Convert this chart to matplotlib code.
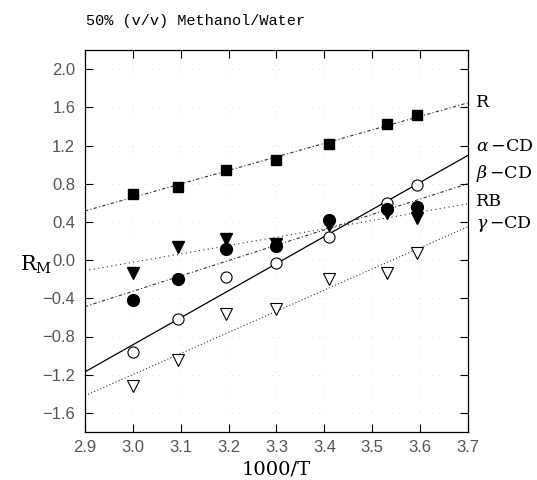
import matplotlib
matplotlib.use("Agg")
import matplotlib.pyplot as plt
import numpy as np

# ---- data ----
x_vals = [3.00, 3.095, 3.194, 3.298, 3.41, 3.53, 3.594]
R_vals = [0.69, 0.766, 0.947, 1.05, 1.22, 1.42, 1.52]
aCD_vals = [-0.964, -0.62, -0.18, -0.035, 0.244, 0.60, 0.79]
bCD_vals = [-0.418, -0.198, 0.115, 0.15, 0.425, 0.53, 0.557]
RB_vals = [-0.14, 0.14, 0.216, 0.17, 0.37, 0.49, 0.44]
gCD_vals = [-1.32, -1.05, -0.564, -0.515, -0.198, -0.13, 0.07]

fit_x = [2.9, 3.7]
fit_R = [0.515, 1.647]
fit_aCD = [-1.17, 1.097]
fit_bCD = [-0.487, 0.80]
fit_RB = [-0.11, 0.59]
fit_gCD = [-1.42, 0.35]

series_labels = ["R", r"$\alpha\,$$-$CD", r"$\beta\,$$-$CD", "RB", r"$\gamma\,$$-$CD"]
label_y = [1.65, 1.19, 0.91, 0.61, 0.38]

x_ticks = [2.9, 3.0, 3.1, 3.2, 3.3, 3.4, 3.5, 3.6, 3.7]
y_ticks = [-1.6, -1.2, -0.8, -0.4, 0.0, 0.4, 0.8, 1.2, 1.6, 2.0]

plt.rcParams['mathtext.fontset'] = 'dejavuserif'

fig = plt.figure(figsize=(5.37, 4.8), dpi=100)
ax = fig.add_axes([85/537, 1-432/480, (468-85)/537, (432-50)/480])

ax.set_xlim(2.9, 3.7)
ax.set_ylim(-1.8, 2.2)

# faint dotted grid
for xv in x_ticks[1:-1]:
    ax.axvline(xv, color='#d5d5d5', lw=0.6, ls=(0, (1, 7)), zorder=0)
for yv in y_ticks:
    ax.axhline(yv, color='#d5d5d5', lw=0.6, ls=(0, (1, 7)), zorder=0)

lc = '#333333'
ax.plot(fit_x, fit_R, color=lc, lw=0.8, ls=(0, (3, 2, 1, 2)), zorder=1)
ax.plot(fit_x, fit_aCD, color='black', lw=0.9, ls='-', zorder=1)
ax.plot(fit_x, fit_bCD, color=lc, lw=0.8, ls=(0, (3, 2, 1, 2)), zorder=1)
ax.plot(fit_x, fit_RB, color=lc, lw=0.8, ls=(0, (1, 3)), zorder=1)
ax.plot(fit_x, fit_gCD, color=lc, lw=0.8, ls=(0, (1, 2)), zorder=1)

ax.plot(x_vals, R_vals, ls='none', marker='s', ms=7.5, mfc='black', mec='black', zorder=3)
ax.plot(x_vals, aCD_vals, ls='none', marker='o', ms=8, mfc='white', mec='black', mew=0.8, zorder=3)
ax.plot(x_vals, RB_vals, ls='none', marker='v', ms=8, mfc='black', mec='black', zorder=3)
ax.plot(x_vals, bCD_vals, ls='none', marker='o', ms=8.5, mfc='black', mec='black', zorder=4)
ax.plot(x_vals, gCD_vals, ls='none', marker='v', ms=8.5, mfc='white', mec='black', mew=0.8, zorder=3)

ax.set_xticks(x_ticks)
ax.set_xticklabels([f"{v:.1f}" for v in x_ticks])
ax.set_yticks(y_ticks)
ax.set_yticklabels([f"{v:.1f}".replace('-', '\u2212') for v in y_ticks])
ax.tick_params(direction='in', top=True, right=True, length=6, width=0.8,
               labelsize=12, pad=6, colors='black', labelcolor='#555555')
ax.tick_params(axis='y', pad=7)
for lab in ax.get_xticklabels() + ax.get_yticklabels():
    lab.set_family('Liberation Sans')
for s in ax.spines.values():
    s.set_linewidth(0.9)

for lab, yv in zip(series_labels, label_y):
    ax.text(1.02, yv, lab, transform=ax.get_yaxis_transform(), ha='left', va='center',
            fontsize=12.5, family='DejaVu Serif')

fig.text(86/537, 1-21/480, "50% (v/v) Methanol/Water", ha='left', va='center',
         fontsize=11, family='Liberation Mono')
fig.text(20/537, 1-265/480, r"R$_{\mathrm{M}}$", ha='left', va='center',
         fontsize=15, family='DejaVu Serif')
ax.set_xlabel("1000/T", fontsize=14, family='DejaVu Serif', labelpad=4)

fig.savefig("out.png", dpi=100)
